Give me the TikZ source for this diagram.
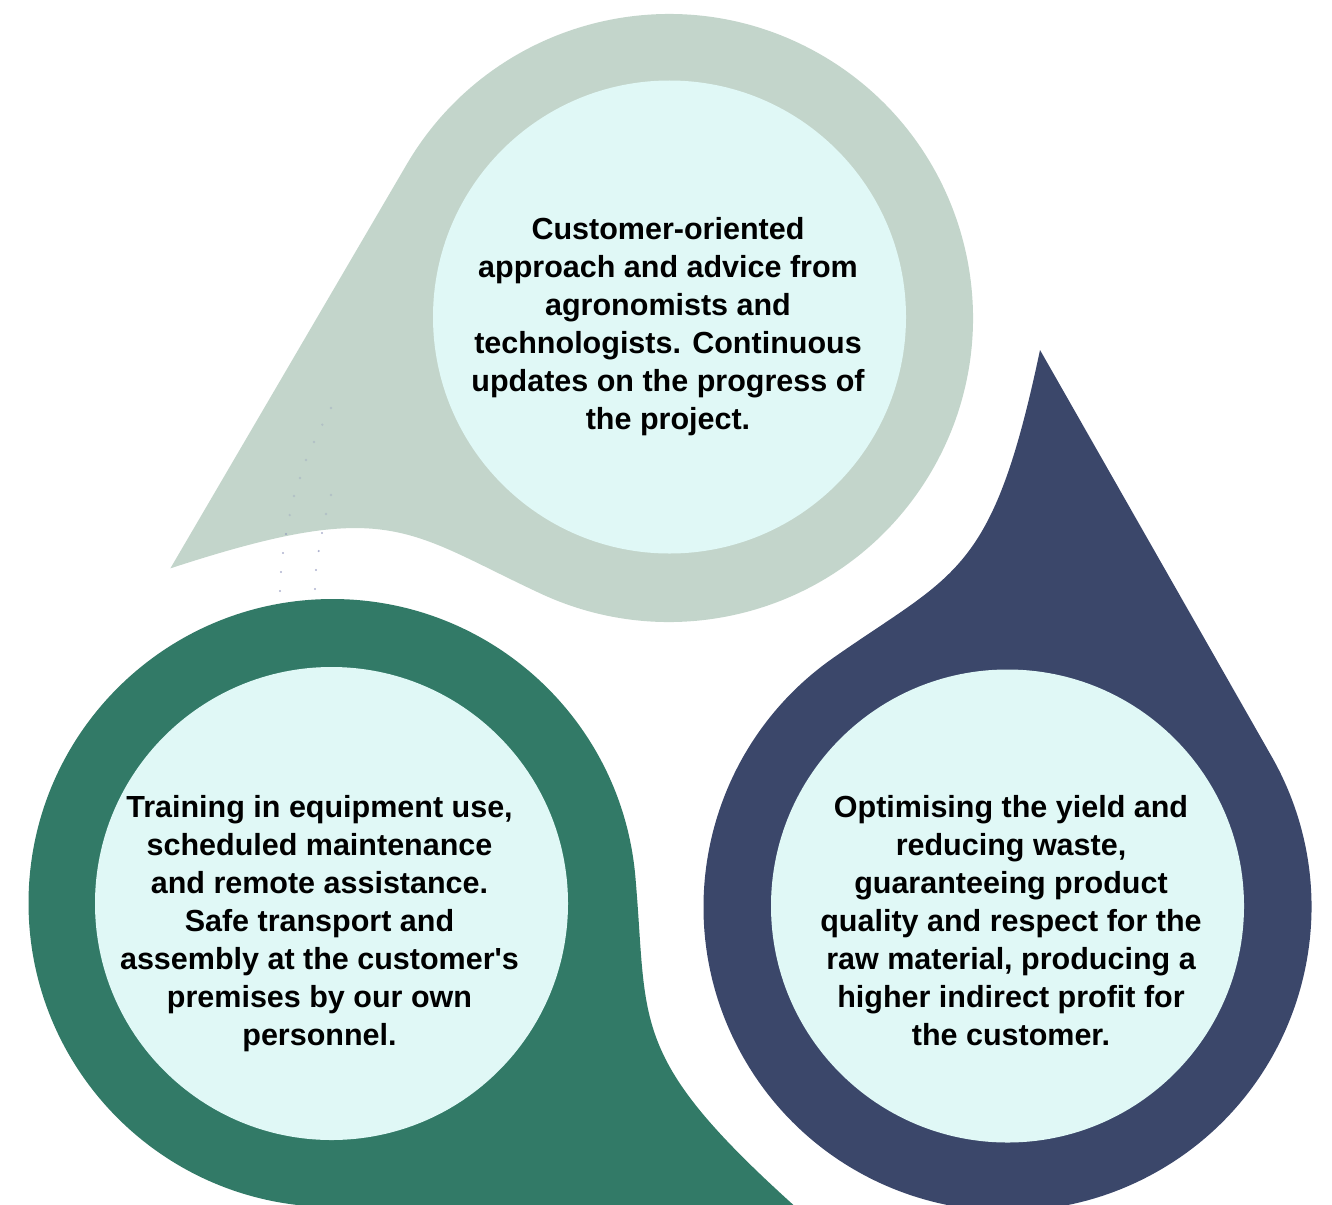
\documentclass[tikz,border=0pt]{standalone}
\usepackage{fontspec}
\setmainfont{Liberation Sans}
\definecolor{sage}{RGB}{195,213,203}
\definecolor{mint}{RGB}{224,248,246}
\definecolor{forest}{RGB}{50,122,103}
\definecolor{navyc}{RGB}{59,71,106}
\definecolor{dotc}{RGB}{140,146,186}
% teardrop in local coordinates: centre at origin, tip up (navy orientation)
\newcommand\dropshape[1]{%
  \fill[#1] (32.5,557) -- (29.68:304)
    arc[start angle=29.68, end angle=-235, radius=304]
    .. controls (-51.5,335.1) and (-14.9,331.8) .. (32.5,557) -- cycle;}
\tikzset{
  innerc/.style={circle, fill=mint, inner sep=0pt, minimum size=473pt},
  txt/.style={align=center, text=black, inner sep=0pt,
    font=\fontsize{30.5}{38}\selectfont\bfseries},
  dotfaint/.style={fill=dotc, opacity=0.3},
  dotvis/.style={fill=dotc, opacity=0.7}
}
\begin{document}
\begin{tikzpicture}[x=1pt,y=1pt]
\useasboundingbox (0,0) rectangle (1332,-1204);
\begin{scope}
\clip (0,0) rectangle (1332,-1204);
% teardrops
\begin{scope}[shift={(669,-318)}, rotate=120]
  \dropshape{sage}
\end{scope}
\begin{scope}[shift={(332.5,-903)}, rotate=240]
  \dropshape{forest}
\end{scope}
\begin{scope}[shift={(1007.5,-907)}]
  \dropshape{navyc}
\end{scope}
\end{scope}
% faint dotted guide lines
\foreach \x/\y in {331/408,322.3/424.7,314/442,306/460,300/478,294/496,289.7/515,331/495,326/514}
  \fill[dotfaint] (\x,-\y) circle (1.3);
\foreach \x/\y in {286/534,283/553,281/572,280/591,322/533,318.7/551,316/570,315/589}
  \fill[dotvis] (\x,-\y) circle (1.2);
% inner circles
\node[innerc] (ctop) at (669.5,-317) {};
\node[innerc] (cleft) at (331.5,-903.5) {};
\node[innerc] (cright) at (1007.5,-906) {};
% texts
\node[txt] (ttop) at (668,-327) {Customer-oriented\\approach and advice from\\agronomists and\\technologists. Continuous\\updates on the progress of\\the project.};
\node[txt] (tleft) at (319.5,-924) {Training in equipment use,\\scheduled maintenance\\and remote assistance.\\Safe transport and\\assembly at the customer\textquotesingle s\\premises by our own\\personnel.};
\node[txt] (tright) at (1011,-921) {Optimising the yield and\\reducing waste,\\guaranteeing product\\quality and respect for the\\raw material, producing a\\higher indirect profit for\\the customer.};
\end{tikzpicture}
\end{document}
